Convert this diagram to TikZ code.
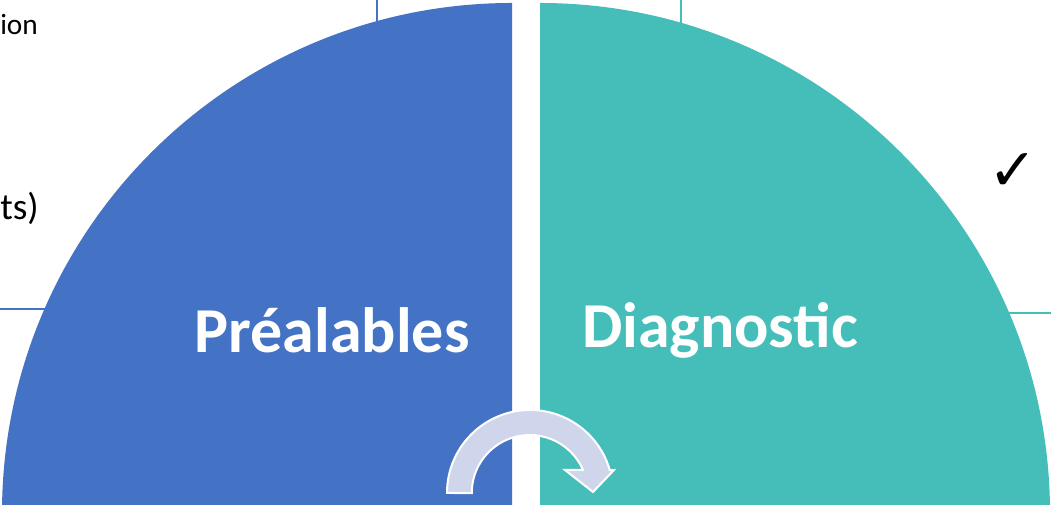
\documentclass[tikz,border=0pt]{standalone}
\usepackage{fontspec}
\setmainfont{Carlito}
\newfontfamily\symfont{DejaVu Sans}
\definecolor{prebleu}{HTML}{4472C4}
\definecolor{diagvert}{HTML}{45BDB8}
\definecolor{fleche}{HTML}{CFD5EA}
\begin{document}
\begin{tikzpicture}[x=0.75pt, y=0.75pt, auto]
        \useasboundingbox (0,0) rectangle (1051,505);
        % traits de liaison (derriere les quarts)
        \coordinate (bleuhaut) at (377,505);
        \coordinate (bleuhautfin) at (377,480);
        \coordinate (bleugauche) at (0,196);
        \coordinate (bleugauchefin) at (60,196);
        \coordinate (verthaut) at (681,505);
        \coordinate (verthautfin) at (681,480);
        \coordinate (vertdroite) at (1051,192);
        \coordinate (vertdroitefin) at (1000,192);
        \draw[prebleu, line width=1.5pt] (bleuhaut) -- (bleuhautfin);
        \draw[prebleu, line width=1.5pt] (bleugauche) -- (bleugauchefin);
        \draw[diagvert, line width=1.5pt] (verthaut) -- (verthautfin);
        \draw[diagvert, line width=1.5pt] (vertdroite) -- (vertdroitefin);

        % les deux quarts de disque
        \fill[prebleu] (512,-8) -- (2,-8) arc[start angle=180, end angle=90, radius=510] -- cycle;
        \fill[diagvert] (540,-8) -- (540,502) arc[start angle=90, end angle=0, radius=510] -- cycle;

        \node[text=white, font=\bfseries\fontsize{48}{58}\selectfont] (prealables) at (332,175) {Préalables};
        \node[text=white, font=\bfseries\fontsize{48}{58}\selectfont] (diagnostic) at (720,175) {Diagnostic};

        % fleche courbe
        \filldraw[fill=fleche, draw=white, line width=1.5pt] (447,12) arc[start angle=180, end angle=16, radius=83]
            -- (614,35) -- (593,13) -- (565,35) -- (583,35)
            arc[start angle=23.4, end angle=180, radius=58] -- cycle;

        % textes coupes
        \node[anchor=base west, inner sep=0pt, font=\fontsize{22}{26}\selectfont] (texteion) at (0,470) {ion};
        \node[anchor=base west, inner sep=0pt, font=\fontsize{28}{32}\selectfont] (textets) at (0,285) {ts)};
        \node[anchor=center, inner sep=0pt, font=\symfont\fontsize{44}{48}\selectfont] (coche) at (1013,333) {✓};
    \end{tikzpicture}
\end{document}
